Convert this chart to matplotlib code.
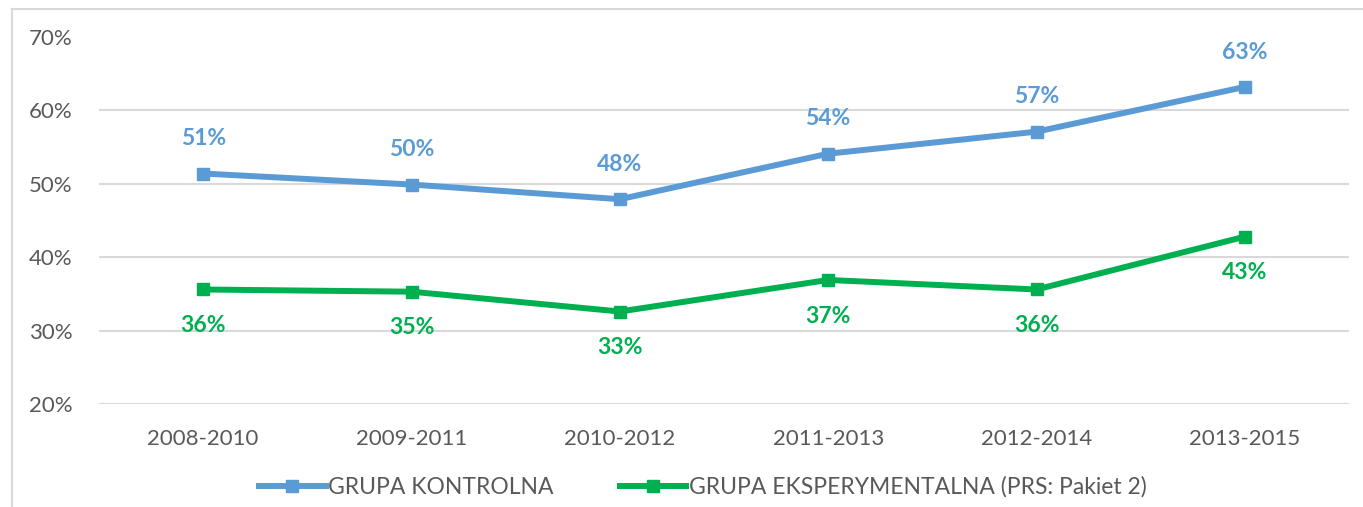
import matplotlib.pyplot as plt
from matplotlib.lines import Line2D

periods = ['2008-2010', '2009-2011', '2010-2012', '2011-2013', '2012-2014', '2013-2015']
kontrolna = [51.4, 49.9, 47.9, 54.1, 57.1, 63.2]
eksperymentalna = [35.6, 35.3, 32.6, 36.9, 35.6, 42.8]
y_ticks = [20, 30, 40, 50, 60, 70]

blue = '#5B9BD5'
green = '#00B050'
grey_text = '#595959'
grid_col = '#D9D9D9'

plt.rcParams['font.family'] = ['Lato', 'DejaVu Sans']

fig = plt.figure(figsize=(13.63, 5.07), dpi=100)
ax = fig.add_axes([99 / 1363, 1 - 404 / 507, 1250 / 1363, 367 / 507])

x = list(range(len(periods)))
ax.plot(x, kontrolna, color=blue, lw=4.3, marker='s', ms=9, label='GRUPA KONTROLNA')
ax.plot(x, eksperymentalna, color=green, lw=4.3, marker='s', ms=9,
        label='GRUPA EKSPERYMENTALNA (PRS: Pakiet 2)')

# data labels: control group above, experimental below
for xi, v in zip(x, kontrolna):
    ax.annotate(f'{round(v)}%', (xi, v), xytext=(0, 25), textcoords='offset points',
                ha='center', va='center', color=blue, fontsize=16.5, fontweight='bold')
for xi, v in zip(x, eksperymentalna):
    ax.annotate(f'{round(v)}%', (xi, v), xytext=(0, -26), textcoords='offset points',
                ha='center', va='center', color=green, fontsize=16.5, fontweight='bold')

ax.set_xlim(-0.5, len(periods) - 0.5)
ax.set_ylim(20, 70)
ax.set_yticks(y_ticks)
ax.set_yticklabels([f'{t}%' for t in y_ticks])
ax.set_xticks(x)
ax.set_xticklabels(periods)
ax.tick_params(length=0, labelsize=16, colors=grey_text)
ax.tick_params(axis='y', pad=19)
ax.tick_params(axis='x', pad=18)

for t in y_ticks[:-1]:
    ax.axhline(t, color=grid_col, lw=1.5, zorder=0)
for s in ax.spines.values():
    s.set_visible(False)

ax.legend(loc='center', bbox_to_anchor=(0.483, -0.226), ncol=2, frameon=False,
          fontsize=16.5, labelcolor=grey_text, handlelength=2.9, handletextpad=0.1,
          columnspacing=2.9)

# outer chart frame (left and top edges)
fig.add_artist(Line2D([12 / 1363, 12 / 1363], [0, 1 - 9 / 507], color=grid_col, lw=1.5))
fig.add_artist(Line2D([12 / 1363, 1], [1 - 9 / 507, 1 - 9 / 507], color=grid_col, lw=1.5))

fig.savefig('out.png', dpi=100)
